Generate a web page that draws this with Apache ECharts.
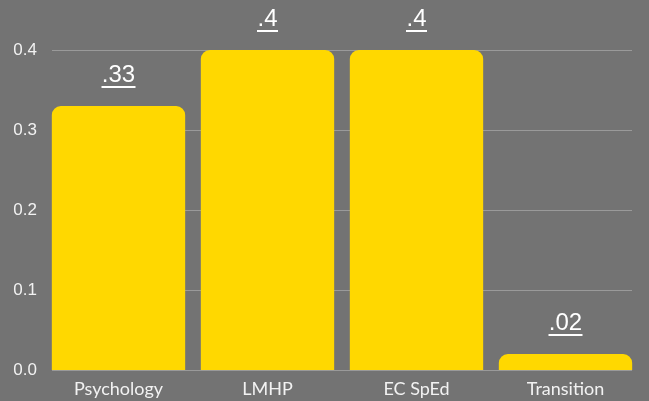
<!DOCTYPE html>
<html>
<head>
<meta charset="utf-8">
<script src="https://cdn.jsdelivr.net/npm/echarts@6/dist/echarts.min.js"></script>
<style>
  html, body { margin: 0; padding: 0; background: #737373; }
  #chart { width: 649px; height: 401px; }
</style>
</head>
<body>
<div id="chart"></div>
<script>
// data
var categories = ['Psychology', 'LMHP', 'EC SpEd', 'Transition'];
var values = [0.33, 0.4, 0.4, 0.02];
var yTicks = [0, 0.1, 0.2, 0.3, 0.4];

var labelFont = '24px "Liberation Sans", Arial, sans-serif';

// width of the label text, so the underline matches it
var ctx = document.createElement('canvas').getContext('2d');
ctx.font = labelFont;
function shortLabel(v) {
    return String(v).replace(/^0/, '');
}

var barData = values.map(function (v) {
    var txt = shortLabel(v);
    var w = Math.round(ctx.measureText(txt).width) + 1;
    return {
        value: v,
        label: {
            formatter: '{t|' + txt + '}\n{u|}',
            rich: {
                t: { color: '#fff', fontSize: 24, fontFamily: '"Liberation Sans", Arial, sans-serif', lineHeight: 21, align: 'center' },
                u: { width: w, height: 2, lineHeight: 2, backgroundColor: '#fff', align: 'center' }
            }
        }
    };
});

var myChart = echarts.init(document.getElementById('chart'));

var option = {
    backgroundColor: '#737373',
    animation: false,
    grid: [
        // grid for gridlines and y labels
        { left: 52, right: 17, top: 50, height: 320 },
        // grid for the bars (bars run edge to edge)
        { left: 44, right: 9, top: 50, height: 320 }
    ],
    xAxis: [
        { type: 'category', gridIndex: 0, data: categories, show: false },
        {
            type: 'category',
            gridIndex: 1,
            data: categories,
            axisLine: { show: false },
            axisTick: { show: false },
            axisLabel: {
                color: '#f2f2f2',
                fontSize: 18,
                fontFamily: 'Lato, sans-serif',
                margin: 10
            }
        }
    ],
    yAxis: [
        {
            type: 'value',
            gridIndex: 0,
            min: 0,
            max: 0.4,
            interval: 0.1,
            axisLine: { show: false },
            axisTick: { show: false },
            splitLine: { lineStyle: { color: '#9a9a9a', width: 1 } },
            axisLabel: {
                color: '#f2f2f2',
                fontSize: 17,
                fontFamily: '"Liberation Sans", Arial, sans-serif',
                margin: 15,
                formatter: function (v) { return v.toFixed(1); }
            }
        },
        {
            type: 'value',
            gridIndex: 1,
            min: 0,
            max: 0.4,
            interval: 0.1,
            show: false
        }
    ],
    series: [
        {
            type: 'bar',
            xAxisIndex: 1,
            yAxisIndex: 1,
            data: barData,
            barCategoryGap: '10.5%',
            itemStyle: {
                color: '#ffd800',
                borderRadius: [9, 9, 0, 0]
            },
            label: {
                show: true,
                position: 'top',
                distance: 18
            }
        }
    ]
};

myChart.setOption(option);
</script>
</body>
</html>
